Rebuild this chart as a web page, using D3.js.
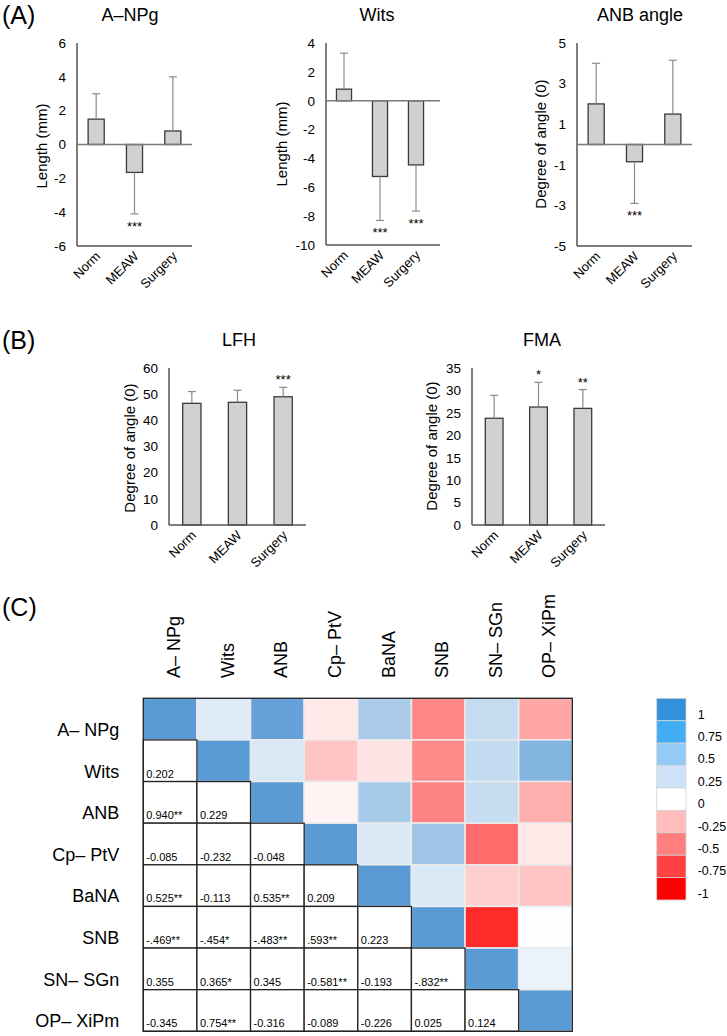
<!DOCTYPE html>
<html>
<head>
<meta charset="utf-8">
<script src="https://cdn.jsdelivr.net/npm/d3@7"></script>
<style>
  body { margin: 0; background: #fff; }
  svg { display: block; font-family: "Liberation Sans", Arial, Helvetica, sans-serif; }
</style>
</head>
<body>
<svg id="fig" width="727" height="1036"></svg>
<script>
// ---- data ----
var groups = ["Norm", "MEAW", "Surgery"];

var anpgMean = [1.5, -1.65, 0.8];
var anpgSd = [1.5, 2.45, 3.2];
var anpgSig = ["", "***", ""];

var witsMean = [0.8, -5.25, -4.45];
var witsSd = [2.5, 3.05, 3.2];
var witsSig = ["", "***", "***"];

var anbMean = [2.0, -0.85, 1.5];
var anbSd = [2.0, 2.05, 2.65];
var anbSig = ["", "***", ""];

var lfhMean = [46.5, 46.9, 49.0];
var lfhSd = [4.5, 4.6, 3.6];
var lfhSig = ["", "", "***"];

var fmaMean = [23.8, 26.3, 26.0];
var fmaSd = [5.1, 5.5, 4.2];
var fmaSig = ["", "*", "**"];

var measures = ["A\u2013 NPg", "Wits", "ANB", "Cp\u2013 PtV", "BaNA", "SNB", "SN\u2013 SGn", "OP\u2013 XiPm"];
// lower triangle, row by row (row i has i entries)
var corrText = [
  [],
  ["0.202"],
  ["0.940**", "0.229"],
  ["-0.085", "-0.232", "-0.048"],
  ["0.525**", "-0.113", "0.535**", "0.209"],
  ["-.469**", "-.454*", "-.483**", ".593**", "0.223"],
  ["0.355", "0.365*", "0.345", "-0.581**", "-0.193", "-.832**"],
  ["-0.345", "0.754**", "-0.316", "-0.089", "-0.226", "0.025", "0.124"]
];

var legendValues = ["1", "0.75", "0.5", "0.25", "0", "-0.25", "-0.5", "-0.75", "-1"];
var legendColors = ["#3391db", "#43adf3", "#93caf6", "#cee3f9", "#ffffff", "#ffbdbd", "#ff7e7e", "#ff4141", "#ff0000"];

var svg = d3.select("#fig");
svg.append("rect").attr("width", 727).attr("height", 1036).attr("fill", "#fff");

// ---- bar chart with one-sided error bars ----
function barChart(cfg) {
    var g = svg.append("g");
    var y = d3.scaleLinear().domain(cfg.domain).range([cfg.bottom, cfg.top]);
    var x = d3.scaleBand().domain(groups)
        .range([cfg.left, cfg.bandEnd])
        .paddingInner(cfg.pad).paddingOuter(cfg.pad / 2);
    var data = groups.map(function (k, i) {
        return {name: k, mean: cfg.mean[i], sd: cfg.sd[i], sig: cfg.sig[i]};
    });

    // tick labels only, no tick marks
    g.append("g")
        .attr("transform", "translate(" + cfg.left + ",0)")
        .call(d3.axisLeft(y).tickValues(cfg.ticks).tickSize(0).tickPadding(11)
            .tickFormat(function (d) { return String(d); }))
        .call(function (a) { a.select(".domain").remove(); })
        .selectAll("text")
        .attr("fill", "#000")
        .style("font-size", "13.5px")
        .style("font-family", "inherit");

    // bars
    g.selectAll(".bar").data(data).enter().append("rect")
        .attr("x", function (d) { return x(d.name); })
        .attr("width", x.bandwidth())
        .attr("y", function (d) { return Math.min(y(d.mean), y(0)); })
        .attr("height", function (d) { return Math.abs(y(d.mean) - y(0)); })
        .attr("fill", "#d1d1d1")
        .attr("stroke", "#3a3a3a")
        .attr("stroke-width", 1.3);

    // error bars, away from zero
    var err = g.selectAll(".err").data(data).enter().append("g")
        .attr("stroke", "#8a8a8a").attr("stroke-width", 1.2);
    err.append("line")
        .attr("x1", function (d) { return x(d.name) + x.bandwidth() / 2; })
        .attr("x2", function (d) { return x(d.name) + x.bandwidth() / 2; })
        .attr("y1", function (d) { return y(d.mean); })
        .attr("y2", function (d) { return y(d.mean + Math.sign(d.mean) * d.sd); });
    err.append("line")
        .attr("x1", function (d) { return x(d.name) + x.bandwidth() / 2 - 4; })
        .attr("x2", function (d) { return x(d.name) + x.bandwidth() / 2 + 4; })
        .attr("y1", function (d) { return y(d.mean + Math.sign(d.mean) * d.sd); })
        .attr("y2", function (d) { return y(d.mean + Math.sign(d.mean) * d.sd); });

    // significance stars
    g.selectAll(".sig").data(data).enter().append("text")
        .attr("x", function (d) { return x(d.name) + x.bandwidth() / 2; })
        .attr("y", function (d) {
            var e = y(d.mean + Math.sign(d.mean) * d.sd);
            return d.mean < 0 ? e + 17 : e - 3;
        })
        .attr("text-anchor", "middle")
        .style("font-size", "13px")
        .text(function (d) { return d.sig; });

    // axis lines
    g.append("line")
        .attr("x1", cfg.left).attr("x2", cfg.left)
        .attr("y1", y(cfg.domain[1])).attr("y2", y(cfg.domain[0]))
        .attr("stroke", "#3a3a3a").attr("stroke-width", 1.3);
    g.append("line")
        .attr("x1", cfg.left).attr("x2", cfg.axisEnd)
        .attr("y1", y(cfg.domain[0])).attr("y2", y(cfg.domain[0]))
        .attr("stroke", "#555").attr("stroke-width", 1.4);
    if (cfg.domain[0] < 0) {
        g.append("line")
            .attr("x1", cfg.left).attr("x2", cfg.axisEnd)
            .attr("y1", y(0)).attr("y2", y(0))
            .attr("stroke", "#7a7a7a").attr("stroke-width", 1.5);
    }

    // category labels
    g.selectAll(".cat").data(data).enter().append("text")
        .attr("transform", function (d) {
            return "translate(" + (x(d.name) + x.bandwidth() / 2 + 5) + "," + (cfg.bottom + 11) + ") rotate(-45)";
        })
        .attr("text-anchor", "end")
        .style("font-size", "13px")
        .text(function (d) { return d.name; });

    // title and y label
    g.append("text")
        .attr("x", cfg.titleX).attr("y", cfg.titleY)
        .attr("text-anchor", "middle")
        .style("font-size", "18px")
        .text(cfg.title);
    g.append("text")
        .attr("transform", "translate(" + cfg.labelX + "," + cfg.labelY + ") rotate(-90)")
        .attr("text-anchor", "middle")
        .attr("dy", "0.35em")
        .style("font-size", "15px")
        .text(cfg.ylabel);
}

barChart({mean: anpgMean, sd: anpgSd, sig: anpgSig, domain: [-6, 6], ticks: [-6, -4, -2, 0, 2, 4, 6],
    left: 77, axisEnd: 192, bandEnd: 192, top: 43, bottom: 246, pad: 0.58,
    title: "A\u2013NPg", titleX: 130, titleY: 21, ylabel: "Length (mm)", labelX: 42, labelY: 146});
barChart({mean: witsMean, sd: witsSd, sig: witsSig, domain: [-10, 4], ticks: [-10, -8, -6, -4, -2, 0, 2, 4],
    left: 326, axisEnd: 440, bandEnd: 434, top: 43, bottom: 245, pad: 0.58,
    title: "Wits", titleX: 377, titleY: 21, ylabel: "Length (mm)", labelX: 282, labelY: 144});
barChart({mean: anbMean, sd: anbSd, sig: anbSig, domain: [-5, 5], ticks: [-5, -3, -1, 1, 3, 5],
    left: 577, axisEnd: 692, bandEnd: 692, top: 43, bottom: 246, pad: 0.58,
    title: "ANB angle", titleX: 640, titleY: 21, ylabel: "Degree of angle (0)", labelX: 541, labelY: 144});
barChart({mean: lfhMean, sd: lfhSd, sig: lfhSig, domain: [0, 60], ticks: [0, 10, 20, 30, 40, 50, 60],
    left: 169, axisEnd: 306, bandEnd: 306, top: 368, bottom: 525, pad: 0.6,
    title: "LFH", titleX: 239, titleY: 346, ylabel: "Degree of angle (0)", labelX: 130, labelY: 448});
barChart({mean: fmaMean, sd: fmaSd, sig: fmaSig, domain: [0, 35], ticks: [0, 5, 10, 15, 20, 25, 30, 35],
    left: 472, axisEnd: 605, bandEnd: 605, top: 368, bottom: 525, pad: 0.6,
    title: "FMA", titleX: 542, titleY: 346, ylabel: "Degree of angle (0)", labelX: 432, labelY: 446});

// panel letters
[["(A)", 24], ["(B)", 349], ["(C)", 616]].forEach(function (p) {
    svg.append("text").attr("x", 2).attr("y", p[1])
        .style("font-size", "25px").text(p[0]);
});

// ---- correlation matrix ----
var hm = {left: 143.3, top: 698.3, width: 429, height: 333};
var cx = d3.scaleBand().domain(measures).range([hm.left, hm.left + hm.width]);
var cy = d3.scaleBand().domain(measures).range([hm.top, hm.top + hm.height]);
var color = d3.scaleLinear().domain([-1, 0, 1]).range(["#ff0000", "#ffffff", "#5b9bd5"]);

var cells = [];
measures.forEach(function (row, i) {
    measures.forEach(function (col, j) {
        var txt = j < i ? corrText[i][j] : (j > i ? corrText[j][i] : "1");
        cells.push({row: row, col: col, i: i, j: j, text: txt,
            value: parseFloat(txt.replace(/\*/g, ""))});
    });
});

var heat = svg.append("g");
// coloured upper triangle and diagonal
heat.selectAll(".up").data(cells.filter(function (d) { return d.j >= d.i; }))
    .enter().append("rect")
    .attr("x", function (d) { return cx(d.col); })
    .attr("y", function (d) { return cy(d.row); })
    .attr("width", cx.bandwidth())
    .attr("height", cy.bandwidth())
    .attr("fill", function (d) { return color(d.value); })
    .attr("stroke", "#ebebeb")
    .attr("stroke-width", 1.5);
// white lower triangle with values
var low = heat.selectAll(".low").data(cells.filter(function (d) { return d.j < d.i; }))
    .enter().append("g");
low.append("rect")
    .attr("x", function (d) { return cx(d.col); })
    .attr("y", function (d) { return cy(d.row); })
    .attr("width", cx.bandwidth())
    .attr("height", cy.bandwidth())
    .attr("fill", "#fff")
    .attr("stroke", "#222")
    .attr("stroke-width", 1.3);
low.append("text")
    .attr("x", function (d) { return cx(d.col) + 3; })
    .attr("y", function (d) { return cy(d.row) + cy.bandwidth() - 4; })
    .style("font-size", "11px")
    .text(function (d) { return d.text; });
heat.append("rect")
    .attr("x", hm.left).attr("y", hm.top)
    .attr("width", hm.width).attr("height", hm.height)
    .attr("fill", "none").attr("stroke", "#222").attr("stroke-width", 1.3);

// row and column labels
heat.selectAll(".rl").data(measures).enter().append("text")
    .attr("x", hm.left - 24)
    .attr("y", function (d) { return cy(d) + cy.bandwidth() - 4; })
    .attr("text-anchor", "end")
    .style("font-size", "18px")
    .text(function (d) { return d; });
heat.selectAll(".cl").data(measures).enter().append("text")
    .attr("transform", function (d) {
        return "translate(" + (cx(d) + cx.bandwidth() / 2 + 10) + "," + 678 + ") rotate(-90)";
    })
    .style("font-size", "18px")
    .text(function (d) { return d; });

// legend
var ly = d3.scaleBand().domain(legendValues).range([698.3, 900]);
var legend = svg.append("g");
legend.selectAll("rect").data(legendValues).enter().append("rect")
    .attr("x", 656.7).attr("y", function (d) { return ly(d); })
    .attr("width", 29.3).attr("height", ly.bandwidth())
    .attr("fill", function (d, i) { return legendColors[i]; })
    .attr("stroke", "#d4d4d4").attr("stroke-width", 0.8);
legend.selectAll("text").data(legendValues).enter().append("text")
    .attr("x", 697.7)
    .attr("y", function (d) { return ly(d) + ly.bandwidth() / 2 + 9; })
    .style("font-size", "12.5px")
    .text(function (d) { return d; });
</script>
</body>
</html>
